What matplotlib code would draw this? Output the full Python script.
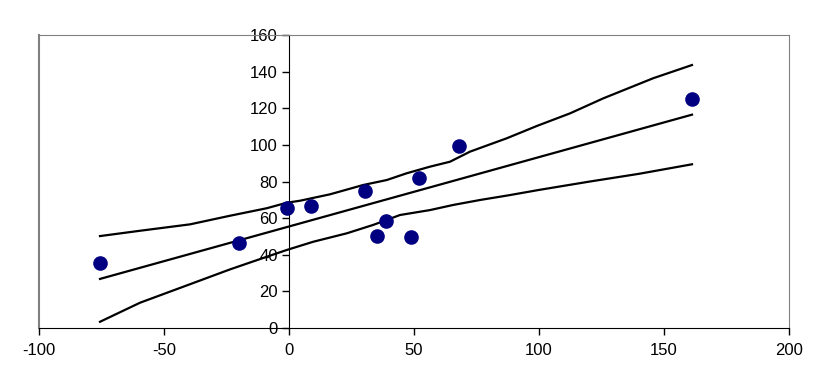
import matplotlib.pyplot as plt

plt.rcParams['font.family'] = ['Liberation Sans', 'DejaVu Sans']
plt.rcParams['axes.unicode_minus'] = False

# observed points
x_obs = [-75.6, -20.0, -0.8, 8.8, 30.4, 35.2, 38.8, 48.8, 52.0, 68.0, 161.2]
y_obs = [35.5, 46.4, 65.5, 66.6, 74.8, 50.2, 58.4, 49.7, 81.9, 99.4, 125.0]

# fitted line
fit_x = [-75.6, 161.2]
fit_y = [26.8, 116.5]

# upper / lower band, read at these x positions
up_x = [-75.6, -59.6, -39.6, -23.6, -8.9, -0.9, 4.4, 16.4, 29.7, 39.1, 47.1, 56.4, 64.4, 72.4, 87.1, 99.1, 112.4, 125.7, 145.7, 161.2]
up_y = [50.2, 53.1, 56.6, 61.3, 65.4, 68.4, 69.5, 73.0, 78.1, 80.8, 84.5, 88.1, 90.8, 96.3, 103.6, 110.3, 117.2, 125.4, 136.4, 143.6]
lo_x = [-75.6, -59.6, -39.6, -23.6, -8.9, -0.9, 9.7, 23.1, 33.7, 44.4, 56.4, 65.7, 76.4, 88.0, 100.0, 120.4, 140.0, 161.2]
lo_y = [3.4, 13.8, 23.9, 32.0, 38.9, 42.6, 47.1, 51.7, 56.3, 61.7, 64.4, 67.2, 69.9, 72.5, 75.4, 80.0, 84.2, 89.4]

fig = plt.figure(figsize=(8.26, 3.9), dpi=100)
ax = fig.add_axes([39 / 826, 1 - 328 / 390, 750 / 826, 293 / 390])

ax.plot(up_x, up_y, color='black', lw=1.6)
ax.plot(fit_x, fit_y, color='black', lw=1.6)
ax.plot(lo_x, lo_y, color='black', lw=1.6)
ax.plot(x_obs, y_obs, 'o', color='#000080', ms=9.5, zorder=5)

ax.set_xlim(-100, 200)
ax.set_ylim(0, 160)
ax.set_xticks(range(-100, 201, 50))
ax.set_yticks(range(0, 161, 20))

# plot area frame in grey, axes through zero in black
for s in ('top', 'right'):
    ax.spines[s].set_color('#808080')
ax.spines['left'].set_position(('data', 0))
ax.spines['left'].set_color('black')
ax.spines['bottom'].set_color('black')
ax.axvline(-100, color='#808080', lw=1.5, clip_on=False, zorder=0)

ax.tick_params(direction='out', length=5, width=1, labelsize=12, pad=3)
ax.tick_params(axis='x', pad=6)

fig.savefig('out.png', dpi=100)
